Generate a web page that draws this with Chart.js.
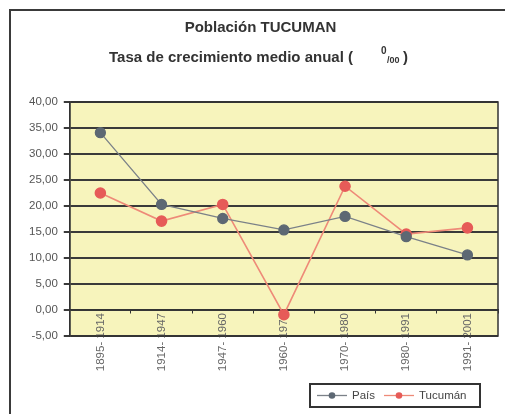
<!DOCTYPE html>
<html>
<head>
<meta charset="utf-8">
<script src="https://cdn.jsdelivr.net/npm/chart.js@4/dist/chart.umd.min.js"></script>
<style>
  html, body { margin: 0; padding: 0; background: #fff; }
  #wrap { width: 505px; height: 414px; }
</style>
</head>
<body>
<div id="wrap"><canvas id="id-canvas" width="505" height="414"></canvas></div>
<script>
// datos
var periodos = ['1895- 1914', '1914- 1947', '1947- 1960', '1960- 1970', '1970- 1980', '1980- 1991', '1991- 2001'];
var pais = [34.1, 20.3, 17.6, 15.4, 18.0, 14.1, 10.6];
var tucuman = [22.5, 17.1, 20.3, -0.9, 23.8, 14.6, 15.8];
var yTicks = [-5, 0, 5, 10, 15, 20, 25, 30, 35, 40];
var subtitulo = 'Tasa de crecimiento medio anual (';

var grisPais = '#5d6873';
var lineaPais = '#7b8188';
var rojoTuc = '#e65b58';
var lineaTuc = '#ee8a78';
var fuente = 'Liberation Sans, Arial, sans-serif';

// marco, fondo, subtitulo y leyenda dibujados a mano
var extras = {
  id: 'extras',
  beforeDraw: function(chart) {
    var ctx = chart.ctx, a = chart.chartArea;
    ctx.save();
    ctx.fillStyle = '#fff';
    ctx.fillRect(0, 0, chart.width, chart.height);
    ctx.strokeStyle = '#3a3a3a'; ctx.lineWidth = 2;
    ctx.strokeRect(10, 10, 520, 440);
    ctx.fillStyle = '#f7f4bc';
    ctx.fillRect(a.left, a.top, a.right - a.left, a.bottom - a.top);
    ctx.restore();
  },
  afterDraw: function(chart) {
    var ctx = chart.ctx, a = chart.chartArea;
    ctx.save();
    ctx.strokeStyle = '#333'; ctx.lineWidth = 1.5;
    ctx.strokeRect(a.left, a.top, a.right - a.left, a.bottom - a.top);

    // subtitulo con simbolo de por mil
    ctx.fillStyle = '#333';
    ctx.textBaseline = 'middle';
    ctx.textAlign = 'right';
    ctx.font = 'bold 15px ' + fuente;
    ctx.fillText(subtitulo, 353, 58);
    ctx.textAlign = 'left';
    ctx.font = 'bold 10px ' + fuente;
    ctx.fillText('0', 381, 51);
    ctx.font = 'bold 9px ' + fuente;
    ctx.fillText('/00', 387, 61);
    ctx.font = 'bold 15px ' + fuente;
    ctx.fillText(')', 403, 58);

    // leyenda
    var lx = 310, ly = 384, lw = 170, lh = 23;
    ctx.fillStyle = '#fff';
    ctx.fillRect(lx, ly, lw, lh);
    ctx.strokeStyle = '#333'; ctx.lineWidth = 2;
    ctx.strokeRect(lx, ly, lw, lh);
    var sx = [317, 384];
    chart.data.datasets.forEach(function(ds, i) {
      var cy = ly + lh / 2;
      ctx.strokeStyle = ds.borderColor; ctx.lineWidth = 1.3;
      ctx.beginPath(); ctx.moveTo(sx[i], cy); ctx.lineTo(sx[i] + 30, cy); ctx.stroke();
      ctx.fillStyle = ds.pointBackgroundColor;
      ctx.beginPath(); ctx.arc(sx[i] + 15, cy, 3.3, 0, Math.PI * 2); ctx.fill();
      ctx.fillStyle = '#444';
      ctx.font = '11.5px ' + fuente;
      ctx.textAlign = 'left'; ctx.textBaseline = 'middle';
      ctx.fillText(ds.label, sx[i] + 35, cy + 0.5);
    });
    ctx.restore();
  }
};

var options = {
  type: 'line',
  data: {
    labels: periodos,
    datasets: [{
      label: 'País',
      data: pais,
      borderColor: lineaPais,
      backgroundColor: grisPais,
      pointBackgroundColor: grisPais,
      pointBorderColor: grisPais,
      borderWidth: 1.3,
      pointRadius: 5,
      tension: 0
    }, {
      label: 'Tucumán',
      data: tucuman,
      borderColor: lineaTuc,
      backgroundColor: rojoTuc,
      pointBackgroundColor: rojoTuc,
      pointBorderColor: rojoTuc,
      borderWidth: 1.6,
      pointRadius: 5,
      tension: 0
    }]
  },
  options: {
    responsive: false,
    animation: false,
    layout: { padding: { left: 23, right: 7, top: 0, bottom: 78 } },
    plugins: {
      title: {
        display: true,
        text: 'Población TUCUMAN',
        color: '#333',
        font: { family: fuente, size: 15, weight: 'bold' },
        padding: { top: 19, bottom: 65 }
      },
      legend: { display: false },
      tooltip: { enabled: false }
    },
    scales: {
      x: {
        position: { y: 0 },
        offset: true,
        grid: { display: true, offset: true, drawOnChartArea: false, drawTicks: true, tickLength: 3, color: '#333', lineWidth: 1 },
        border: { display: true, color: '#333', width: 1.5 },
        ticks: {
          color: '#666',
          font: { family: fuente, size: 11.5 },
          maxRotation: 90, minRotation: 90,
          padding: 0
        }
      },
      y: {
        min: -5, max: 40,
        afterBuildTicks: function(axis) {
          axis.ticks = yTicks.map(function(v) { return { value: v }; });
        },
        grid: { color: '#3a3a3a', lineWidth: 2, tickLength: 6, drawTicks: true },
        border: { display: true, color: '#333', width: 1.5 },
        ticks: {
          color: '#555',
          font: { family: fuente, size: 11.5 },
          padding: 6,
          callback: function(v) { return v.toFixed(2).replace('.', ','); }
        }
      }
    }
  },
  plugins: [extras]
};

var ctx = document.getElementById('id-canvas').getContext('2d');
window.grafico = new Chart(ctx, options);
</script>
</body>
</html>
